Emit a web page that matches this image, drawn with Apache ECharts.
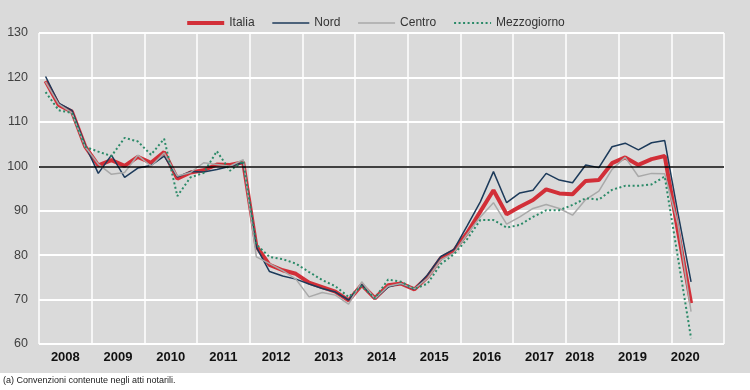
<!DOCTYPE html>
<html><head><meta charset="utf-8">
<script src="https://cdn.jsdelivr.net/npm/echarts@6/dist/echarts.min.js"></script>
<style>html,body{margin:0;padding:0;background:#fff}#c{width:750px;height:390px}</style>
</head><body><div id="c"></div>
<script>
const years = ['2008','2009','2010','2011','2012','2013','2014','2015','2016','2017','2018','2019','2020'];
const quarters = years.flatMap(y => ['T1','T2','T3','T4'].map(q => y + ' ' + q));
const shiftedYears = ['2018','2019','2020'];
const yMin = 60, yMax = 130, yStep = 10;

const italia = [119.2,113.8,112.3,104.5,100.2,101.4,100.1,102.1,100.8,103.2,97.2,98.6,
  99.1,100.4,100.3,100.9,82.0,77.8,76.6,75.8,73.8,72.8,71.8,69.8,
  73.3,70.3,73.2,73.6,72.3,75.1,79.3,81.0,85.0,89.8,94.6,89.2,
  90.9,92.4,94.8,93.9,93.7,96.7,96.9,100.7,102.0,100.3,101.6,102.3,85.5,69.2];
const nord = [120.2,114.2,112.6,104.8,98.4,102.5,97.5,99.6,100.2,102.3,97.6,98.8,
  98.7,99.3,100.0,100.8,81.8,76.3,75.3,74.6,73.5,72.5,71.7,69.9,
  73.4,70.2,72.8,73.6,72.3,75.6,79.7,81.3,86.6,92.0,98.8,91.8,
  94.0,94.6,98.4,96.9,96.3,100.3,99.7,104.4,105.2,103.7,105.3,105.8,89.5,74.0];
const centro = [119.0,114.0,112.0,104.4,100.5,98.2,98.6,102.5,100.0,103.0,97.8,98.6,
  100.8,100.4,100.0,101.5,79.6,78.1,76.5,74.6,70.6,71.6,71.0,69.0,
  74.0,70.2,73.0,73.6,72.4,74.8,78.9,80.5,84.7,88.6,91.8,87.0,
  88.6,90.5,91.4,90.5,89.0,92.5,94.4,99.3,102.0,97.7,98.4,98.3,87.0,67.3];
const mezzogiorno = [116.7,112.6,112.0,104.4,103.3,102.3,106.4,105.6,102.6,106.2,93.3,97.5,
  98.5,103.4,99.0,101.2,82.4,79.6,79.1,78.1,76.2,74.4,73.0,70.6,
  73.0,70.3,74.5,74.0,72.4,73.6,78.0,80.2,83.6,87.9,87.9,86.2,
  86.8,88.6,90.1,90.1,91.3,92.8,92.5,94.7,95.6,95.6,95.9,97.7,79.5,61.3];

const FONT = '"Liberation Sans",Arial,sans-serif';
const chart = echarts.init(document.getElementById('c'), null, {renderer: 'canvas'});
const yearStyle = {fontSize: 13, fontWeight: 'bold', fontFamily: FONT, color: '#111'};
chart.setOption({
  animation: false,
  backgroundColor: '#dadada',
  graphic: [
    {type: 'rect', left: 0, top: 373, shape: {width: 750, height: 17}, style: {fill: '#ffffff'}, silent: true},
    {type: 'text', left: 3, top: 376, style: {text: '(a) Convenzioni contenute negli atti notarili.', font: '9px ' + FONT, fill: '#222'}}
  ],
  legend: {
    top: 12, left: 'center', itemWidth: 37, itemHeight: 10, itemGap: 17,
    data: ['Italia', 'Nord', 'Centro', 'Mezzogiorno'],
    itemStyle: {opacity: 0},
    lineStyle: {width: 'inherit'},
    textStyle: {fontSize: 12, fontFamily: FONT, color: '#333'}
  },
  grid: {left: 39, right: 26, top: 33, bottom: 46},
  xAxis: [
    {type: 'category', data: years, boundaryGap: true, position: 'bottom',
     axisLine: {show: false}, axisTick: {show: false},
     splitLine: {show: true, interval: 0, lineStyle: {color: '#ffffff', width: 1.5}},
     axisLabel: {interval: 0, margin: 7,
       formatter: v => shiftedYears.includes(v) ? '{s|' + v + '}' : '{n|' + v + '}',
       rich: {n: yearStyle, s: Object.assign({padding: [0, 25, 0, 0]}, yearStyle)}}},
    {type: 'category', data: quarters, boundaryGap: true, show: false}
  ],
  yAxis: {type: 'value', min: yMin, max: yMax, interval: yStep,
    axisLine: {show: false}, axisTick: {show: false},
    splitLine: {lineStyle: {color: '#ffffff', width: 2}},
    axisLabel: {margin: 11, fontSize: 12.5, color: '#404040', fontFamily: FONT}},
  series: [
    {name: 'Italia', type: 'line', xAxisIndex: 1, data: italia, symbol: 'none',
     lineStyle: {color: '#d22f38', width: 4}, itemStyle: {color: '#d22f38'},
     markLine: {silent: true, symbol: ['none', 'none'], label: {show: false},
       lineStyle: {color: '#000', width: 1.5, type: 'solid'}, data: [{yAxis: 100}]}},
    {name: 'Nord', type: 'line', xAxisIndex: 1, data: nord, symbol: 'none',
     lineStyle: {color: '#1c3a5a', width: 1.5}, itemStyle: {color: '#1c3a5a'}},
    {name: 'Centro', type: 'line', xAxisIndex: 1, data: centro, symbol: 'none',
     lineStyle: {color: '#a9a9a9', width: 1.5}, itemStyle: {color: '#a9a9a9'}},
    {name: 'Mezzogiorno', type: 'line', xAxisIndex: 1, data: mezzogiorno, symbol: 'none',
     lineStyle: {color: '#2b8a68', width: 2, type: [2, 2.5]}, itemStyle: {color: '#2b8a68'}}
  ]
});
</script></body></html>
